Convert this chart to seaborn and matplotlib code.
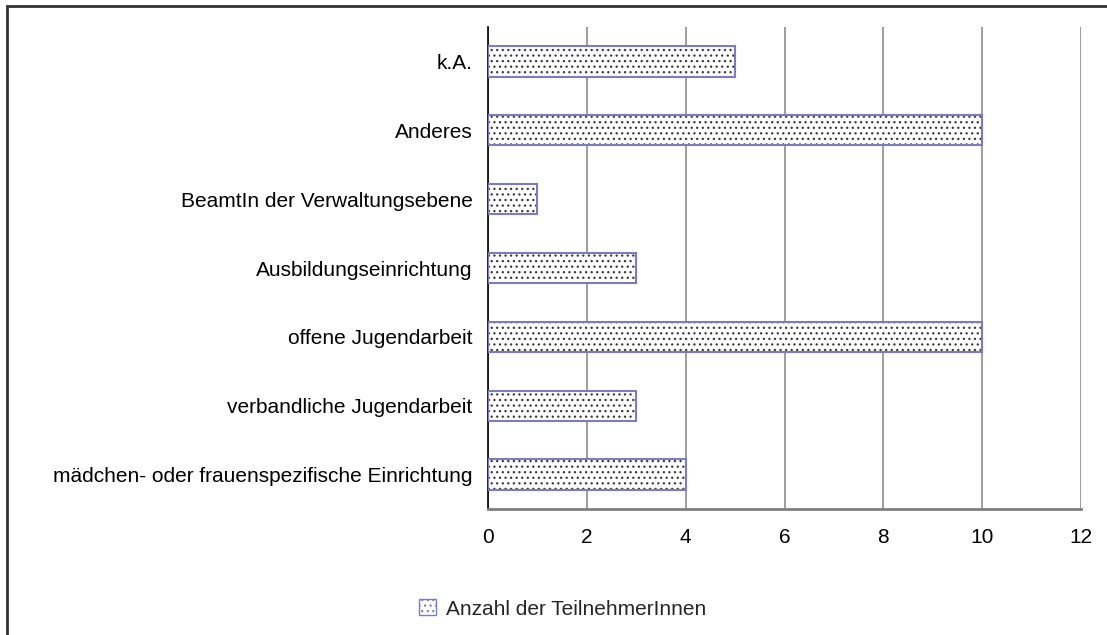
import matplotlib
matplotlib.use("Agg")
import matplotlib.pyplot as plt
import seaborn as sns
import pandas as pd
from matplotlib.patches import Rectangle, Patch

categories = ["k.A.", "Anderes", "BeamtIn der Verwaltungsebene", "Ausbildungseinrichtung",
              "offene Jugendarbeit", "verbandliche Jugendarbeit",
              "mädchen- oder frauenspezifische Einrichtung"]
values = [5, 10, 1, 3, 10, 3, 4]
series_name = "Anzahl der TeilnehmerInnen"
xticks = [0, 2, 4, 6, 8, 10, 12]

sns.set_style("white")
plt.rcParams['font.family'] = ['Liberation Sans', 'DejaVu Sans']
plt.rcParams['hatch.linewidth'] = 0.9
plt.rcParams['hatch.color'] = '#3a3a3a'

W, H = 1107, 635
FS = 15
fig = plt.figure(figsize=(W/100, H/100), dpi=100)
ax = fig.add_axes([488/W, 1-509/H, (1081-488)/W, (509-27)/H])

df = pd.DataFrame({"cat": categories, "val": values})
sns.barplot(data=df, y="cat", x="val", orient="h", ax=ax, color="white",
            width=0.44, edgecolor="#3a3a3a", linewidth=0)
for p in list(ax.patches):
    p.set_hatch("...")
    p.set_facecolor("white")
    x0, y0 = p.get_xy()
    ax.add_patch(Rectangle((x0, y0), p.get_width(), p.get_height(), fill=False,
                           edgecolor="#7b7bc4", linewidth=1.5, zorder=3))

ax.set_xlim(0, 12)
ax.set_ylim(len(categories)-0.5, -0.5)
ax.set_xticks(xticks)
ax.set_xticklabels([str(t) for t in xticks])
ax.xaxis.grid(True, color="#8c8c8c", linewidth=1.2)
ax.set_axisbelow(True)
ax.set_xlabel("")
ax.set_ylabel("")

for s in ["top", "right"]:
    ax.spines[s].set_visible(False)
ax.spines["left"].set_color("black")
ax.spines["left"].set_linewidth(1.2)
ax.spines["bottom"].set_color("#7f7f7f")
ax.spines["bottom"].set_linewidth(2)

ax.tick_params(axis="y", which="major", length=0, pad=11, labelsize=FS, labelcolor="black")
ax.set_yticks([i + 0.5 for i in range(-1, len(categories))], minor=True)
ax.tick_params(axis="y", which="minor", length=5, width=1, color="black", direction="out")
ax.tick_params(axis="x", length=5, width=1, color="black", direction="out", pad=9,
               labelsize=FS, labelcolor="black")

# outer frame
fig.patches.append(Rectangle((7/W, -0.1), 1.2, 1 - 6/H + 0.1, transform=fig.transFigure,
                             fill=False, edgecolor="#333333", linewidth=2))

handle = Patch(facecolor="white", edgecolor="#7b7bc4", hatch="...", linewidth=1)
fig.legend([handle], [series_name], loc="center", bbox_to_anchor=(563/W, 1-609/H),
           frameon=False, fontsize=FS, handlelength=0.8, handleheight=0.8,
           handletextpad=0.5)

fig.savefig("out.png", dpi=100)
